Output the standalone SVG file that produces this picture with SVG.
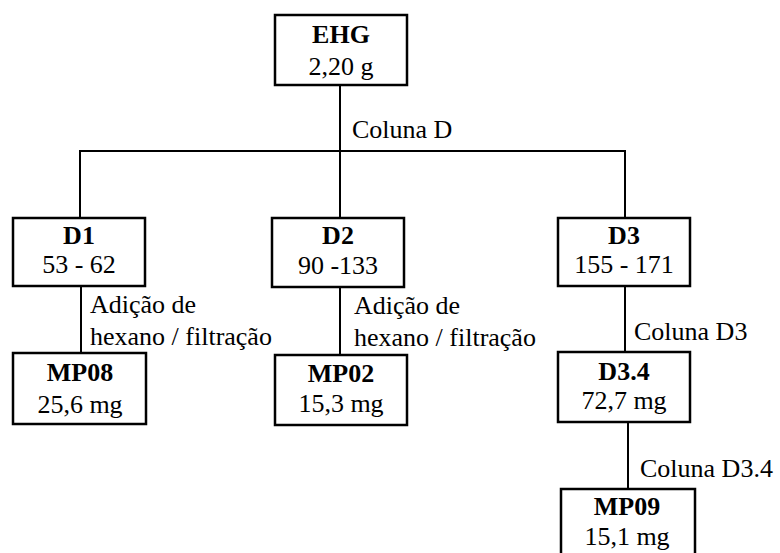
<svg xmlns="http://www.w3.org/2000/svg" width="780" height="553" viewBox="0 0 780 553" font-family="'Liberation Serif', Tinos, 'Times New Roman', Times, 'DejaVu Serif', serif">
  <style>
    .box { fill: #fff; stroke: #000; stroke-width: 2.5; }
    .link { fill: none; stroke: #000; stroke-width: 2; }
    text { font-family: 'Liberation Serif', Tinos, 'Times New Roman', Times, 'DejaVu Serif', serif; font-size: 26px; fill: #000; }
    .t { font-weight: bold; text-anchor: middle; }
    .v { text-anchor: middle; }
  </style>
  <rect width="780" height="553" fill="#fff"/>

  <g id="connectors">
    <line class="link" x1="340" y1="85" x2="340" y2="218"/>
    <polyline class="link" points="80,218 80,151 625,151 625,218"/>
    <line class="link" x1="81" y1="286" x2="81" y2="353"/>
    <line class="link" x1="340" y1="287" x2="340" y2="355"/>
    <line class="link" x1="625" y1="286" x2="625" y2="352"/>
    <line class="link" x1="628" y1="422" x2="628" y2="489"/>
    <text x="352" y="138">Coluna D</text>
    <text x="90" y="313">Adição de</text>
    <text x="90" y="345">hexano / filtração</text>
    <text x="354" y="314">Adição de</text>
    <text x="354" y="346">hexano / filtração</text>
    <text x="634" y="340">Coluna D3</text>
    <text x="640" y="477">Coluna D3.4</text>
  </g>

  <g id="EHG">
    <rect class="box" x="275" y="15" width="132" height="70"/>
    <text class="t" x="341" y="43">EHG</text>
    <text class="v" x="341" y="75">2,20 g</text>
  </g>
  <g id="D1">
    <rect class="box" x="13" y="218" width="132" height="68"/>
    <text class="t" x="79" y="244">D1</text>
    <text class="v" x="79" y="273">53 - 62</text>
  </g>
  <g id="D2">
    <rect class="box" x="272" y="218" width="132" height="69"/>
    <text class="t" x="338" y="244">D2</text>
    <text class="v" x="338" y="274">90 -133</text>
  </g>
  <g id="D3">
    <rect class="box" x="558" y="218" width="132" height="68"/>
    <text class="t" x="624" y="244">D3</text>
    <text class="v" x="624" y="273">155 - 171</text>
  </g>
  <g id="MP08">
    <rect class="box" x="13" y="353" width="133" height="71"/>
    <text class="t" x="80" y="381">MP08</text>
    <text class="v" x="80" y="413">25,6 mg</text>
  </g>
  <g id="MP02">
    <rect class="box" x="275" y="355" width="132" height="70"/>
    <text class="t" x="341" y="382">MP02</text>
    <text class="v" x="341" y="412">15,3 mg</text>
  </g>
  <g id="D3.4">
    <rect class="box" x="558" y="352" width="132" height="70"/>
    <text class="t" x="624" y="380">D3.4</text>
    <text class="v" x="624" y="409">72,7 mg</text>
  </g>
  <g id="MP09">
    <rect class="box" x="561" y="489" width="134" height="70"/>
    <text class="t" x="627" y="515">MP09</text>
    <text class="v" x="627" y="545">15,1 mg</text>
  </g>
</svg>
